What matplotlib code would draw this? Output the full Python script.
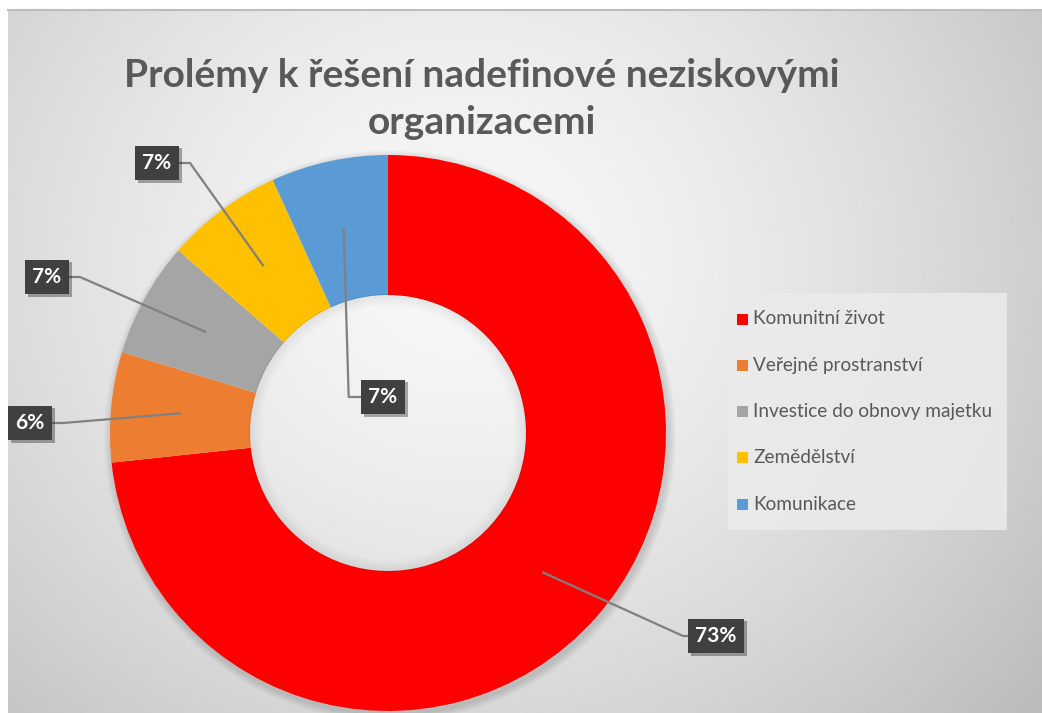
import numpy as np
import matplotlib.pyplot as plt
from matplotlib import patheffects as pe
from matplotlib.patches import Wedge

title = 'Prolémy k řešení nadefinové neziskovými\norganizacemi'
categories = ['Komunitní život', 'Veřejné prostranství', 'Investice do obnovy majetku',
              'Zemědělství', 'Komunikace']
values = [73.3, 6.4, 6.7, 6.8, 6.8]
colors = ['#ff0000', '#ed7d31', '#a5a5a5', '#ffc000', '#5b9bd5']
# label box centres (pixel coords, y from top)
label_pos = [(716, 636), (30, 423), (47, 277), (157, 163), (383, 397)]

W, H = 1042, 713
fig = plt.figure(figsize=(W / 100, H / 100), dpi=100)
fig.patch.set_facecolor('white')
ax = fig.add_axes([0, 0, 1, 1])

# radial gradient background of the chart area
x0, y0 = 8, 10
xx, yy = np.meshgrid(np.linspace(x0, W, 400), np.linspace(y0, H, 300))
d = np.sqrt(((xx - 460) / 650) ** 2 + ((yy - 260) / 600) ** 2)
g = 0.97 - 0.19 * np.clip(d, 0, 1.2) ** 1.5
ax.imshow(g, cmap='gray', vmin=0, vmax=1, extent=(x0, W, 0, H - y0),
          origin='upper', zorder=0, interpolation='bilinear')
ax.plot([x0, W], [H - y0, H - y0], color='#bdbdbd', lw=1.5, zorder=1)

cx, cy, R, width = 388, H - 433, 278, 140

# soft shadow around the ring (outside only)
for k in range(8):
    ax.add_patch(Wedge((cx + 2, cy - 3), R + 8 - k, 0, 360, width=10,
                       color='black', alpha=0.015, lw=0, zorder=1))

wedges, _ = ax.pie(values, colors=colors, startangle=90, counterclock=False,
                   center=(cx, cy), radius=R, wedgeprops=dict(width=width, lw=0),
                   frame=True)
for w in wedges:
    w.set_zorder(2)
ax.set_xlim(0, W)
ax.set_ylim(0, H)
ax.set_aspect('equal')
ax.axis('off')

# inner shadow of the hole
for k in range(6):
    ax.add_patch(Wedge((cx, cy), R - width + 1, 0, 360, width=2 + 2 * k,
                       color='black', alpha=0.012, lw=0, zorder=2))

total = sum(values)
for w, v, (lx, ly) in zip(wedges, values, label_pos):
    ang = np.deg2rad((w.theta1 + w.theta2) / 2)
    sx, sy = cx + 209 * np.cos(ang), cy + 209 * np.sin(ang)
    ly = H - ly
    half = 22
    if lx > sx:
        ex, kx = lx - half, lx - half - 11
    else:
        ex, kx = lx + half, lx + half + 11
    if abs(lx - sx) < 50:
        kx = sx + 5
    ax.plot([sx, kx, ex], [sy, ly, ly], color='#808080', lw=1.6, zorder=3)
    txt = ax.text(lx, ly, f'{round(v / total * 100)}%', ha='center', va='center',
                  fontsize=15, fontweight='bold', color='white', family='Lato',
                  zorder=5,
                  bbox=dict(boxstyle='square,pad=0.35', fc='#404040', ec='none'))
    txt.get_bbox_patch().set_path_effects(
        [pe.SimplePatchShadow(offset=(2, -2), alpha=0.35), pe.Normal()])

ax.text(482, H - 99, title, ha='center', va='center', fontsize=28,
        fontweight='bold', color='#595959', family='Lato', linespacing=1.4, zorder=5)

# legend panel
ax.add_patch(plt.Rectangle((728, H - 530), 279, 237, fc='#ebebeb', ec='none',
                           alpha=0.85, zorder=3))
for i, (c, lab) in enumerate(zip(colors, categories)):
    yy_ = H - (319 + i * 46.3)
    ax.add_patch(plt.Rectangle((737, yy_ - 5.5), 11, 11, fc=c, ec='none', zorder=4))
    ax.text(753, yy_, lab, ha='left', va='center', fontsize=13.7, color='#595959',
            family='Lato', zorder=5)

fig.savefig('out.png', dpi=100)
